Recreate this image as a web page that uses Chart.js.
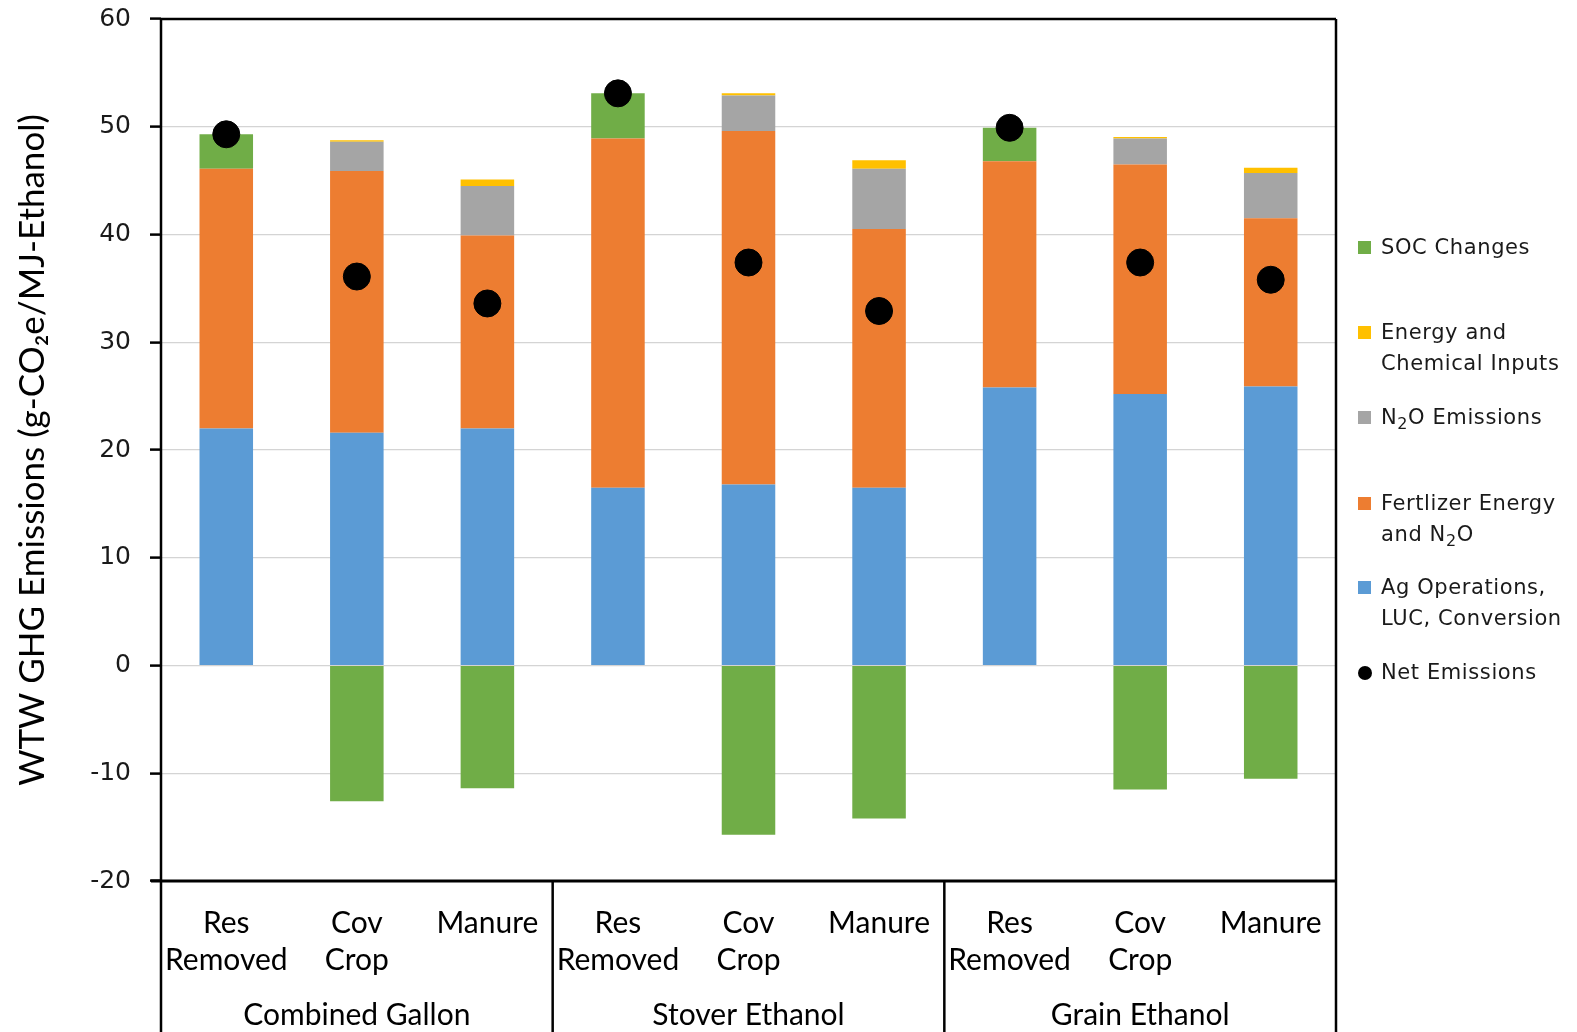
<!DOCTYPE html>
<html>
<head>
<meta charset="utf-8">
<title>WTW GHG Emissions</title>
<script src="https://cdn.jsdelivr.net/npm/chart.js@4.4.1/dist/chart.umd.min.js"></script>
<style>
  html, body { margin: 0; padding: 0; background: #fff; }
  #wrap { position: relative; width: 1577px; height: 1032px; overflow: hidden; }
  #chart { position: absolute; left: 0; top: 0; }
  .leg { position: absolute; left: 1358px; font-family: "DejaVu Sans", Verdana, sans-serif;
         font-size: 21px; color: #1a1a1a; line-height: 31px; letter-spacing: 0.6px; }
  .leg .sw { position: absolute; left: 0; width: 13px; height: 13px; }
  .leg .tx { position: absolute; left: 23px; white-space: nowrap; }
  .leg sub { font-size: 16px; vertical-align: -5px; line-height: 0; }
</style>
</head>
<body>
<div id="wrap">
  <canvas id="chart" width="1577" height="1032"></canvas>
  <div id="legend"></div>
</div>
<script>
// Scenarios along the x axis, grouped by fuel pathway
const categories = [
  ['Res', 'Removed'], ['Cov', 'Crop'], ['Manure'],
  ['Res', 'Removed'], ['Cov', 'Crop'], ['Manure'],
  ['Res', 'Removed'], ['Cov', 'Crop'], ['Manure']
];
const groups = ['Combined Gallon', 'Stover Ethanol', 'Grain Ethanol'];

// Emission components, g-CO2e / MJ ethanol
const agOperations   = [22.0, 21.6, 22.0, 16.5, 16.8, 16.5, 25.8, 25.2, 25.9];
const fertilizer     = [24.1, 24.3, 17.9, 32.4, 32.8, 24.0, 21.0, 21.3, 15.6];
const n2oEmissions   = [0.0, 2.7, 4.6, 0.0, 3.3, 5.6, 0.0, 2.4, 4.2];
const energyInputs   = [0.0, 0.15, 0.6, 0.0, 0.2, 0.8, 0.0, 0.15, 0.5];
const socChanges     = [3.2, -12.6, -11.4, 4.2, -15.7, -14.2, 3.1, -11.5, -10.5];
const netEmissions   = [49.3, 36.1, 33.6, 53.1, 37.4, 32.9, 49.9, 37.4, 35.8];

const yTicks = { min: -20, max: 60, step: 10 };

const COLORS = {
  ag: '#5B9BD5', fert: '#ED7D31', n2o: '#A5A5A5', energy: '#FFC000', soc: '#70AD47', net: '#000000'
};

const PLOT = { left: 161, right: 1336, top: 19, bottom: 881 };
const CAT_AXIS_H = 104;

// Frame, baseline and group separators running through the label rows
const framePlugin = {
  id: 'frame',
  afterDraw(chart) {
    const ctx = chart.ctx;
    const a = chart.chartArea;
    const x = chart.scales.x;
    const H = chart.height;
    ctx.save();
    ctx.strokeStyle = '#000';
    ctx.lineWidth = 2.5;
    ctx.beginPath();
    ctx.moveTo(a.left, a.top); ctx.lineTo(a.right, a.top);
    ctx.moveTo(a.left, a.top); ctx.lineTo(a.left, H);
    ctx.moveTo(a.right, a.top); ctx.lineTo(a.right, H);
    ctx.stroke();
    ctx.lineWidth = 3;
    ctx.beginPath();
    ctx.moveTo(a.left - 10, a.bottom); ctx.lineTo(a.right, a.bottom);
    ctx.stroke();
    ctx.lineWidth = 2.5;
    ctx.beginPath();
    [2, 5].forEach(i => {
      const px = (x.getPixelForValue(i) + x.getPixelForValue(i + 1)) / 2;
      ctx.moveTo(px, a.bottom); ctx.lineTo(px, H);
    });
    ctx.stroke();
    ctx.restore();
  }
};

const labelFont = { family: 'Lato, "Open Sans", sans-serif', size: 30, lineHeight: 1.24 };

const chart = new Chart(document.getElementById('chart'), {
  data: {
    labels: categories,
    datasets: [
      { type: 'line', label: 'Net Emissions', data: netEmissions, stack: 'net', order: 0,
        showLine: false, pointRadius: 13.5, pointHoverRadius: 13.5,
        pointBackgroundColor: COLORS.net, pointBorderColor: COLORS.net, borderColor: COLORS.net },
      { type: 'bar', label: 'Ag Operations, LUC, Conversion', data: agOperations, backgroundColor: COLORS.ag, stack: 's', order: 1 },
      { type: 'bar', label: 'Fertlizer Energy and N2O', data: fertilizer, backgroundColor: COLORS.fert, stack: 's', order: 1 },
      { type: 'bar', label: 'N2O Emissions', data: n2oEmissions, backgroundColor: COLORS.n2o, stack: 's', order: 1 },
      { type: 'bar', label: 'Energy and Chemical Inputs', data: energyInputs, backgroundColor: COLORS.energy, stack: 's', order: 1 },
      { type: 'bar', label: 'SOC Changes', data: socChanges, backgroundColor: COLORS.soc, stack: 's', order: 1 }
    ]
  },
  options: {
    responsive: false,
    animation: false,
    devicePixelRatio: 1,
    layout: { padding: { left: 0, right: 1577 - PLOT.right, top: PLOT.top, bottom: 0 } },
    datasets: { bar: { barPercentage: 0.41, categoryPercentage: 1.0, borderWidth: 0 } },
    plugins: { legend: { display: false }, tooltip: { enabled: false } },
    scales: {
      x: {
        type: 'category', stacked: true, offset: true, weight: 0,
        grid: { display: false },
        border: { display: false },
        ticks: { color: '#000', font: labelFont, padding: 16, maxRotation: 0, autoSkip: false },
        afterFit(s) { s.height = CAT_AXIS_H; s.paddingLeft = 0; s.paddingRight = 0; }
      },
      x2: {
        type: 'category', position: 'bottom', labels: groups, offset: true, weight: 1,
        grid: { display: false },
        border: { display: false },
        ticks: { color: '#000', font: labelFont, padding: 4, maxRotation: 0, autoSkip: false },
        afterFit(s) { s.height = 1032 - PLOT.bottom - CAT_AXIS_H; s.paddingLeft = 0; s.paddingRight = 0; }
      },
      y: {
        stacked: true, min: yTicks.min, max: yTicks.max,
        ticks: { stepSize: yTicks.step, color: '#1a1a1a', padding: 19,
                 font: { family: '"DejaVu Sans", Verdana, sans-serif', size: 25 } },
        grid: { color: '#d4d4d4', lineWidth: 1.2, borderDash: [4, 2], tickLength: 11,
                tickColor: '#000', tickWidth: 2.5, tickBorderDash: [] },
        border: { display: false },
        title: { display: true, text: 'WTW GHG Emissions (g-CO\u2082e/MJ-Ethanol)', color: '#000',
                 font: { family: 'Lato, "Open Sans", sans-serif', size: 35 }, padding: { top: 12, bottom: 0 } },
        afterFit(s) { s.width = PLOT.left; s.paddingTop = 0; s.paddingBottom = 0; }
      }
    }
  },
  plugins: [framePlugin]
});

// Legend entries, top to bottom
const legendItems = [
  { color: COLORS.soc, html: 'SOC Changes', y: 247 },
  { color: COLORS.energy, html: 'Energy and<br>Chemical Inputs', y: 332 },
  { color: COLORS.n2o, html: 'N<sub>2</sub>O Emissions', y: 417 },
  { color: COLORS.fert, html: 'Fertlizer Energy<br>and N<sub>2</sub>O', y: 503 },
  { color: COLORS.ag, html: 'Ag Operations,<br>LUC, Conversion', y: 587 },
  { color: COLORS.net, html: 'Net Emissions', y: 672, round: true }
];
const legendEl = document.getElementById('legend');
legendItems.forEach(it => {
  const d = document.createElement('div');
  d.className = 'leg';
  d.style.top = (it.y - 15.5) + 'px';
  const sw = document.createElement('div');
  sw.className = 'sw';
  sw.style.background = it.color;
  sw.style.top = (15.5 - 6.5) + 'px';
  if (it.round) { sw.style.borderRadius = '50%'; sw.style.width = '14px'; sw.style.height = '14px'; }
  const tx = document.createElement('div');
  tx.className = 'tx';
  tx.innerHTML = it.html;
  d.appendChild(sw); d.appendChild(tx);
  legendEl.appendChild(d);
});
</script>
</body>
</html>
